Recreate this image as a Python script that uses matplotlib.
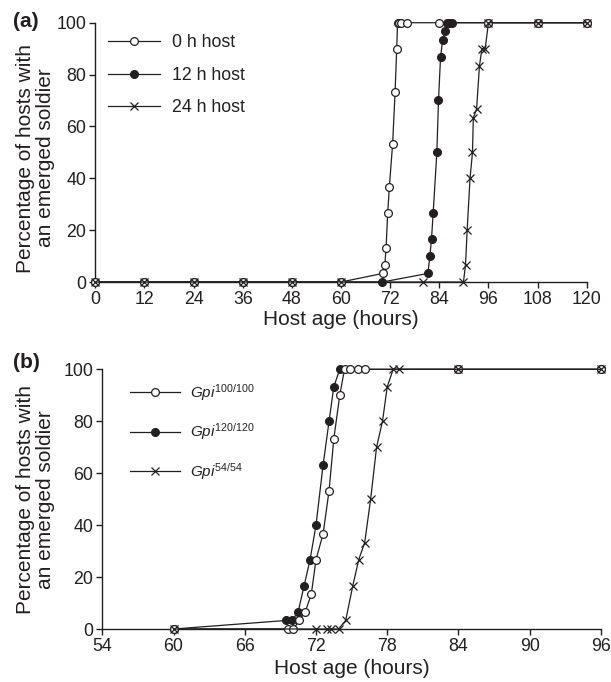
import matplotlib
matplotlib.use("Agg")
import matplotlib.pyplot as plt

plt.rcParams['font.family'] = ['Liberation Sans', 'DejaVu Sans']
plt.rcParams['mathtext.fontset'] = 'custom'
plt.rcParams['mathtext.rm'] = 'Liberation Sans'
plt.rcParams['mathtext.it'] = 'Liberation Sans:italic'

INK = '#231f20'

# ---------------- panel (a): host age at parasitism ---------------- #
a_xticks = [0, 12, 24, 36, 48, 60, 72, 84, 96, 108, 120]

h0_x = [0, 12, 24, 36, 48, 60, 70.2, 70.7, 71.0, 71.4, 71.8, 72.6, 73.2, 73.6,
        73.8, 74.2, 74.6, 76.0, 84, 96, 108, 120]
h0_y = [0, 0, 0, 0, 0, 0, 3.3, 6.7, 13.3, 26.7, 36.7, 53.3, 73.3, 90,
        100, 100, 100, 100, 100, 100, 100, 100]

h12_x = [0, 12, 24, 36, 48, 60, 70.1, 81.2, 81.7, 82.1, 82.5, 83.4, 83.8, 84.3,
         84.8, 85.4, 85.8, 86.4, 87.0, 96, 108, 120]
h12_y = [0, 0, 0, 0, 0, 0, 0, 3.3, 10, 16.7, 26.7, 50, 70, 86.7,
         93.3, 96.7, 100, 100, 100, 100, 100, 100]

h24_x = [0, 12, 24, 36, 48, 60, 80.1, 89.9, 90.4, 90.8, 91.5, 92.1, 92.3, 93.1,
         93.8, 94.4, 95.2, 96, 108, 120]
h24_y = [0, 0, 0, 0, 0, 0, 0, 0, 6.7, 20, 40, 50, 63.3, 66.7,
         83.3, 90, 90, 100, 100, 100]

# ---------------- panel (b): Gpi genotypes ---------------- #
b_xticks = [54, 60, 66, 72, 78, 84, 90, 96]

g100_x = [60, 69.6, 70.1, 70.6, 71.1, 71.6, 72.0, 72.6, 73.1, 73.5, 74.0,
          74.4, 74.9, 75.5, 76.1, 84, 96]
g100_y = [0, 0, 0, 3.3, 6.7, 13.3, 26.7, 36.7, 53.3, 73.3, 90,
          100, 100, 100, 100, 100, 100]

g120_x = [60, 69.5, 70.0, 70.5, 71.0, 71.5, 72.0, 72.6, 73.1, 73.5, 74.0, 84, 96]
g120_y = [0, 3.3, 3.3, 6.7, 16.7, 26.7, 40, 63.3, 80, 93.3, 100, 100, 100]

g54_x = [60, 72.0, 72.9, 73.3, 73.9, 74.5, 75.1, 75.6, 76.1, 76.6, 77.1, 77.6,
         78.0, 78.5, 79.0, 84, 96]
g54_y = [0, 0, 0, 0, 0, 3.3, 16.7, 26.7, 33.3, 50, 70, 80,
         93.3, 100, 100, 100, 100]

a_labels = ['0 h host', '12 h host', '24 h host']
b_labels = [r'$\mathit{Gpi}^{\mathit{100/100}}$',
            r'$\mathit{Gpi}^{\mathit{120/120}}$',
            r'$\mathit{Gpi}^{\mathit{54/54}}$']


def style_axis(ax, xticks, xlim, xlabelpad):
    """Plain L-shaped axes with outward ticks."""
    ax.set_xlim(*xlim)
    ax.set_ylim(0, 100)
    ax.set_xticks(xticks)
    ax.set_yticks([0, 20, 40, 60, 80, 100])
    for side in ('top', 'right'):
        ax.spines[side].set_visible(False)
    for side in ('left', 'bottom'):
        ax.spines[side].set_color(INK)
        ax.spines[side].set_linewidth(1.0)
    ax.tick_params(direction='out', length=4, width=1.0, colors=INK,
                   labelsize=12.8, pad=2.5)
    ax.set_ylabel('Percentage of hosts with\nan emerged soldier',
                  fontsize=15, color=INK, linespacing=1.05)
    ax.set_xlabel('Host age (hours)', fontsize=15, color=INK, labelpad=xlabelpad)


def draw_series(ax, series, labels):
    lines = []
    for (x, y, mk, face, z), lab in zip(series, labels):
        ln, = ax.plot(x, y, color=INK, lw=0.9, marker=mk, ms=5.6 if mk == 'o' else 6.2,
                      mfc=face, mec=INK, mew=0.9, clip_on=False, zorder=z, label=lab)
        lines.append(ln)
    return lines


fig = plt.figure(figsize=(6.11, 6.82), dpi=100)
ax_a = fig.add_axes([0.156, 0.5865, 0.8043, 0.3802])
ax_b = fig.add_axes([0.1674, 0.0777, 0.8162, 0.3808])

# panel (a)
la = draw_series(ax_a, [(h0_x, h0_y, 'o', 'white', 4),
                        (h12_x, h12_y, 'o', INK, 3),
                        (h24_x, h24_y, 'x', 'none', 5)], a_labels)
style_axis(ax_a, a_xticks, (0, 120), 1.5)
ax_a.yaxis.set_label_coords(-0.082, 0.478)
ax_a.legend(handles=la, loc='upper left', bbox_to_anchor=(0.026, 0.956),
            frameon=False, numpoints=1, handlelength=2.9, handletextpad=0.72,
            labelspacing=0.88, borderpad=0, borderaxespad=0, fontsize=12.8,
            labelcolor=INK)

# panel (b)
lb = draw_series(ax_b, [(g100_x, g100_y, 'o', 'white', 4),
                        (g120_x, g120_y, 'o', INK, 3),
                        (g54_x, g54_y, 'x', 'none', 5)], b_labels)
style_axis(ax_b, b_xticks, (54, 96), 3)
ax_b.yaxis.set_label_coords(-0.095, 0.5)
ax_b.legend(handles=lb, loc='upper left', bbox_to_anchor=(0.0555, 0.951),
            frameon=False, numpoints=1, handlelength=3.3, handletextpad=0.6,
            labelspacing=1.22, borderpad=0, borderaxespad=0, fontsize=11,
            labelcolor=INK)

fig.text(0.021, 0.969, '(a)', fontsize=15, fontweight='bold', color=INK, va='center')
fig.text(0.021, 0.468, '(b)', fontsize=15, fontweight='bold', color=INK, va='center')

fig.savefig('out.png', dpi=100)
